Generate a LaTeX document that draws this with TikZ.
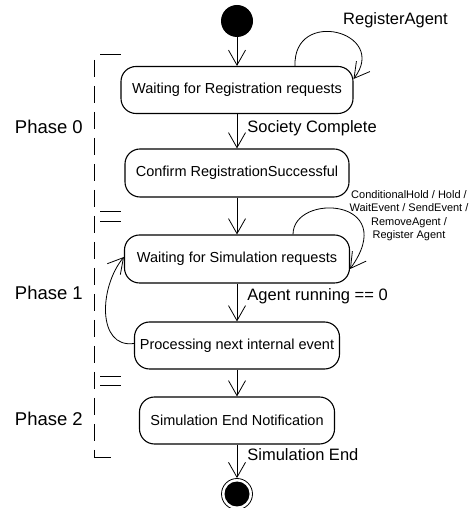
\documentclass[tikz,border=0pt]{standalone}
\usepackage{fontspec}
\setmainfont{Liberation Sans}
\usetikzlibrary{arrows.meta}

\begin{document}
\begin{tikzpicture}[x=1pt,y=1pt,
    state/.style={draw, rounded corners=15pt, line width=1.1pt, minimum height=47pt,
      inner sep=0pt, font=\fontsize{14.5}{16}\selectfont},
    arr/.style={-{Straight Barb[length=15pt,width=17pt]}, line width=0.8pt},
    lbl/.style={inner sep=1pt, font=\fontsize{16.5}{18}\selectfont},
    phase/.style={anchor=east, inner sep=0pt, font=\fontsize{18.5}{20}\selectfont},
    sep/.style={line width=1pt}]
    \useasboundingbox (0,0) rectangle (472,508);
    \node[circle, fill=black, minimum size=32pt, inner sep=0pt] (init) at (237,487) {};
    \node[state, minimum width=232pt] (waitreg) at (237,418) {Waiting for Registration requests};
    \node[state, minimum width=224pt, minimum height=48pt] (confirm) at (237,335) {Confirm RegistrationSuccessful};
    \node[state, minimum width=225pt, minimum height=48pt] (waitsim) at (237,249) {Waiting for Simulation requests};
    \node[state, minimum width=205pt] (process) at (237,162.5) {Processing next internal event};
    \node[state, minimum width=195pt] (simend) at (237,87.5) {Simulation End Notification};
    \node[circle, draw, line width=0.8pt, minimum size=31pt, inner sep=0pt,
      path picture={\fill (path picture bounding box.center) circle (12.5pt);}] (final) at (237,14) {};
    \draw[arr] (init) -- (waitreg);
    \draw[arr] (waitreg) -- node[lbl, right=9pt, pos=0.4] {Society Complete} (confirm);
    \draw[arr] (confirm) -- (waitsim);
    \draw[arr] (waitsim) -- node[lbl, right=9pt, pos=0.33] {Agent running == 0} (process);
    \draw[arr] (process) -- (simend);
    \draw[arr] (simend) -- node[lbl, right=9pt, pos=0.29] {Simulation End} (final);
    \draw[arr] ([xshift=58pt]waitreg.north) .. controls +(-2,59) and +(36,47) .. ([yshift=-13pt]waitreg.north east);
    \node[lbl, anchor=west] (regagent) at (342,488) {RegisterAgent};
    \draw[arr] ([xshift=56pt]waitsim.north) .. controls +(0,42) and +(51,71) .. ([yshift=-10pt]waitsim.east);
    \node[align=center, inner sep=0pt, font=\fontsize{11}{13.5}\selectfont] (simevents) at (409,292.5)
      {ConditionalHold / Hold /\\WaitEvent / SendEvent /\\RemoveAgent /\\Register Agent};
    \draw[arr] ([yshift=2pt]process.west) .. controls +(-37,-5) and +(-25,-30) .. ([yshift=2pt]waitsim.west);
    \node[phase] (phase0) at (83,381) {Phase 0};
    \node[phase] (phase1) at (83,215) {Phase 1};
    \node[phase] (phase2) at (83,89) {Phase 2};
    \draw[sep, dash pattern=on 17pt off 9pt] (94,448) -- (94,50);
    \draw[sep] (94,50) -- (111,50);
    \draw[sep] (100,453) -- (121,453);
    \draw[sep] (100,296.3) -- (121,296.3);
    \draw[sep] (100,286.3) -- (121,286.3);
    \draw[sep] (100,131.3) -- (121,131.3);
    \draw[sep] (100,122.3) -- (121,122.3);
\end{tikzpicture}
\end{document}
